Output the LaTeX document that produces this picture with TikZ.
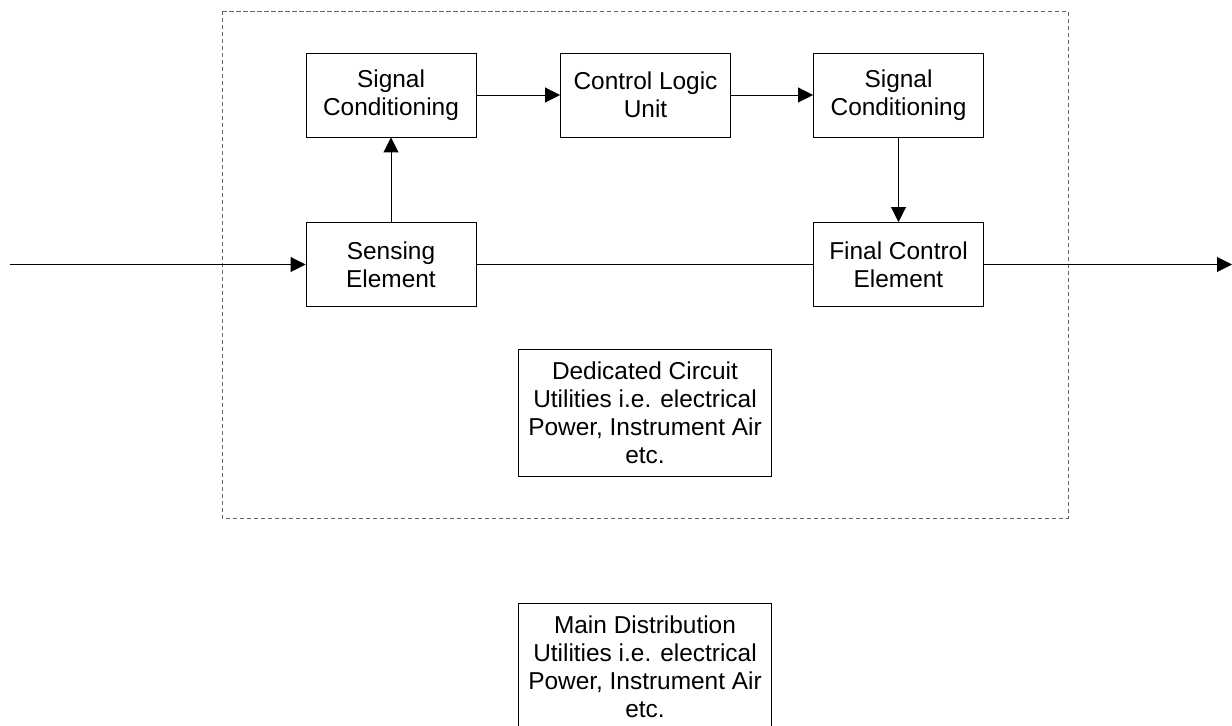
\documentclass[tikz,border=0pt]{standalone}
\usepackage{fontspec}
\setmainfont{Liberation Sans}
\usetikzlibrary{arrows.meta}

\begin{document}
\begin{tikzpicture}[x=0.02cm,y=-0.02cm,
  blk/.style={draw,line width=0.55pt,minimum width=3.4cm,minimum height=1.68cm,
    align=center,inner sep=0pt,font=\fontsize{13.9}{15.9}\selectfont},
  util/.style={blk,minimum width=5.08cm,minimum height=2.54cm},
  flow/.style={-{Triangle[length=0.3cm,width=0.3cm]},line width=0.55pt}]
  \useasboundingbox (0,0) rectangle (1232,726);
  \begin{scope}
    % dedicated loop boundary
    \draw[gray!80!black,line width=0.55pt,dash pattern=on 0.09cm off 0.05cm] (222,11) rectangle (1068,518);
    \node[blk] (sigcond1) at (391,95) {Signal\\Conditioning};
    \node[blk] (logic) at (645.5,95) {Control Logic\\Unit};
    \node[blk] (sigcond2) at (898.5,95) {Signal\\Conditioning};
    \node[blk] (sensing) at (391,264.5) {Sensing\\Element};
    \node[blk] (finalctrl) at (898.5,264.5) {Final Control\\Element};
    \node[util] (dedicated) at (645,412.5) {Dedicated Circuit\\Utilities i.e. electrical\\Power, Instrument Air\\etc.};
    \node[util] (maindist) at (645,666.5) {Main Distribution\\Utilities i.e. electrical\\Power, Instrument Air\\etc.};
    \coordinate (in) at (10,264.5);
    \coordinate (out) at (1232,264.5);
    \draw[flow] (in) -- (sensing);
    \draw[flow] (sensing) -- (sigcond1);
    \draw[flow] (sigcond1) -- (logic);
    \draw[flow] (logic) -- (sigcond2);
    \draw[flow] (sigcond2) -- (finalctrl);
    \draw[line width=0.55pt] (sensing) -- (finalctrl);
    \draw[flow] (finalctrl) -- (out);
  \end{scope}
\end{tikzpicture}
\end{document}
